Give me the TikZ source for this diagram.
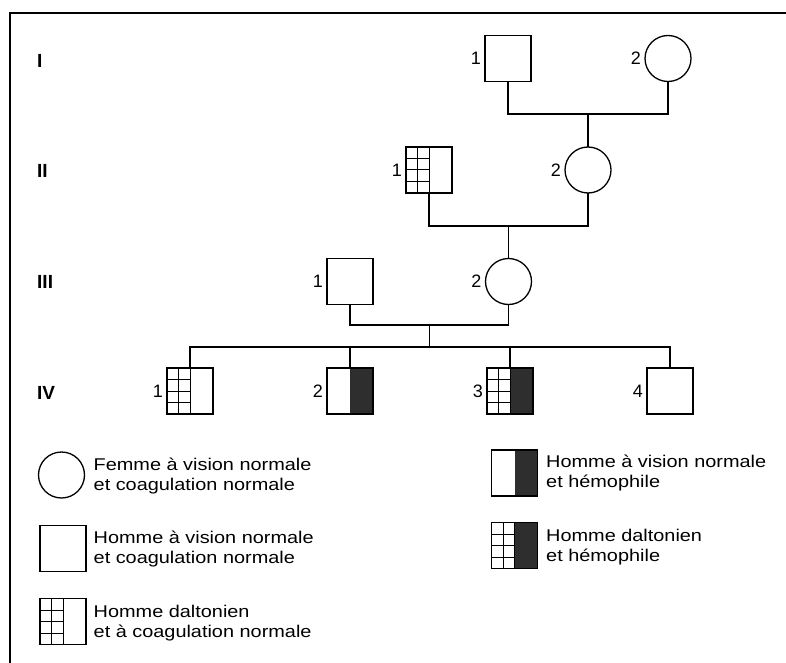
\documentclass[tikz,border=0pt]{standalone}
\usepackage{fontspec}
\usepackage{graphicx}
\setmainfont{Liberation Sans}
\usetikzlibrary{calc}

\newcommand\grille[1]{%
  \draw[gridline] ($(#1.north west)!0.25!(#1.north east)$) -- ($(#1.south west)!0.25!(#1.south east)$);
  \foreach \f in {0.25,0.5,0.75}{\draw[gridline] ($(#1.north west)!\f!(#1.south west)$) -- ($(#1.north)!\f!(#1.south)$);}
  \draw[gridline] (#1.north) -- (#1.south);
}
\newcommand\hemo[1]{%
  \fill[hemofill] (#1.north) rectangle (#1.south east);
  \draw[symline] (#1.north west) rectangle (#1.south east);
}
\newcommand\wl[1]{\scalebox{1.17}[1]{#1}}

\begin{document}
\begin{tikzpicture}[x=1pt,y=-1pt,
  symline/.style={line width=1.3pt},
  sym/.style={draw, symline, minimum size=46pt, inner sep=0pt, outer sep=0pt},
  homme/.style={sym, rectangle},
  femme/.style={sym, circle},
  conn/.style={line width=1.3pt},
  gridline/.style={line width=1pt},
  hemofill/.style={fill=black!82},
  num/.style={font=\fontsize{18}{18}\selectfont, inner sep=0pt},
  label distance=4pt,
  gen/.style={font=\fontsize{19}{19}\selectfont\bfseries, anchor=west, inner sep=0pt},
  legtext/.style={font=\fontsize{17}{20}\selectfont, align=left, anchor=west, inner sep=0pt},
]
\useasboundingbox (0,0) rectangle (786,663);
\fill[white] (0,0) rectangle (786,663);

% frame
\draw[line width=2pt] (786,13) -- (10,13) -- (10,663);

% generation labels
\node[gen] (gI)   at (37,60.5) {I};
\node[gen] (gII)  at (37,171) {II};
\node[gen] (gIII) at (37,282) {III};
\node[gen] (gIV)  at (37,393) {IV};

% generation I
\node[homme, label={[num]left:1}] (I1) at (508,58.5) {};
\node[femme, label={[num]left:2}] (I2) at (668,58.5) {};
% generation II
\node[homme, label={[num]left:1}] (II1) at (429,170) {};
\node[femme, label={[num]left:2}] (II2) at (588,170) {};
% generation III
\node[homme, label={[num]left:1}] (III1) at (350,281.5) {};
\node[femme, label={[num]left:2}] (III2) at (508.5,281.5) {};
% generation IV
\node[homme, label={[num]left:1}] (IV1) at (190,391) {};
\node[homme, label={[num]left:2}] (IV2) at (350,391) {};
\node[homme, label={[num]left:3}] (IV3) at (510,391) {};
\node[homme, label={[num]left:4}] (IV4) at (670,391) {};

\grille{II1}
\grille{IV1}
\hemo{IV2}
\hemo{IV3}
\grille{IV3}

% connectors
\coordinate (mI) at (588,114);
\coordinate (mII) at (508.5,226);
\coordinate (mIII) at (429.25,325);
\coordinate (sib) at (429.25,347);
\draw[conn] (I1.south) |- (mI) -| (I2.south);
\draw[conn] (mI) -- (II2.north);
\draw[conn] (II1.south) |- (mII) -| (II2.south);
\draw[conn] (mII) -- (III2.north);
\draw[conn] (III1.south) |- (mIII) -| (III2.south);
\draw[conn] (mIII) -- (sib);
\draw[conn] (IV1.north) |- (sib) -| (IV4.north);
\draw[conn] (IV2.north) -- (IV2.north |- sib);
\draw[conn] (IV3.north) -- (IV3.north |- sib);

% legend
\node[femme] (LF) at (61.5,475) {};
\node[legtext] (tF) at (93.5,476) {\wl{Femme à vision normale}\\\wl{et coagulation normale}};
\node[homme] (LM) at (63,548.5) {};
\node[legtext] (tM) at (93.5,549.3) {\wl{Homme à vision normale}\\\wl{et coagulation normale}};
\node[homme] (LD) at (63,621.5) {};
\grille{LD}
\node[legtext] (tD) at (93.5,623) {\wl{Homme daltonien}\\\wl{et à coagulation normale}};
\node[homme] (LH) at (514.5,473) {};
\hemo{LH}
\node[legtext] (tH) at (546,473) {\wl{Homme à vision normale}\\\wl{et hémophile}};
\node[homme] (LDH) at (514.5,545.5) {};
\hemo{LDH}
\grille{LDH}
\node[legtext] (tDH) at (546,547) {\wl{Homme daltonien}\\\wl{et hémophile}};
\end{tikzpicture}
\end{document}
